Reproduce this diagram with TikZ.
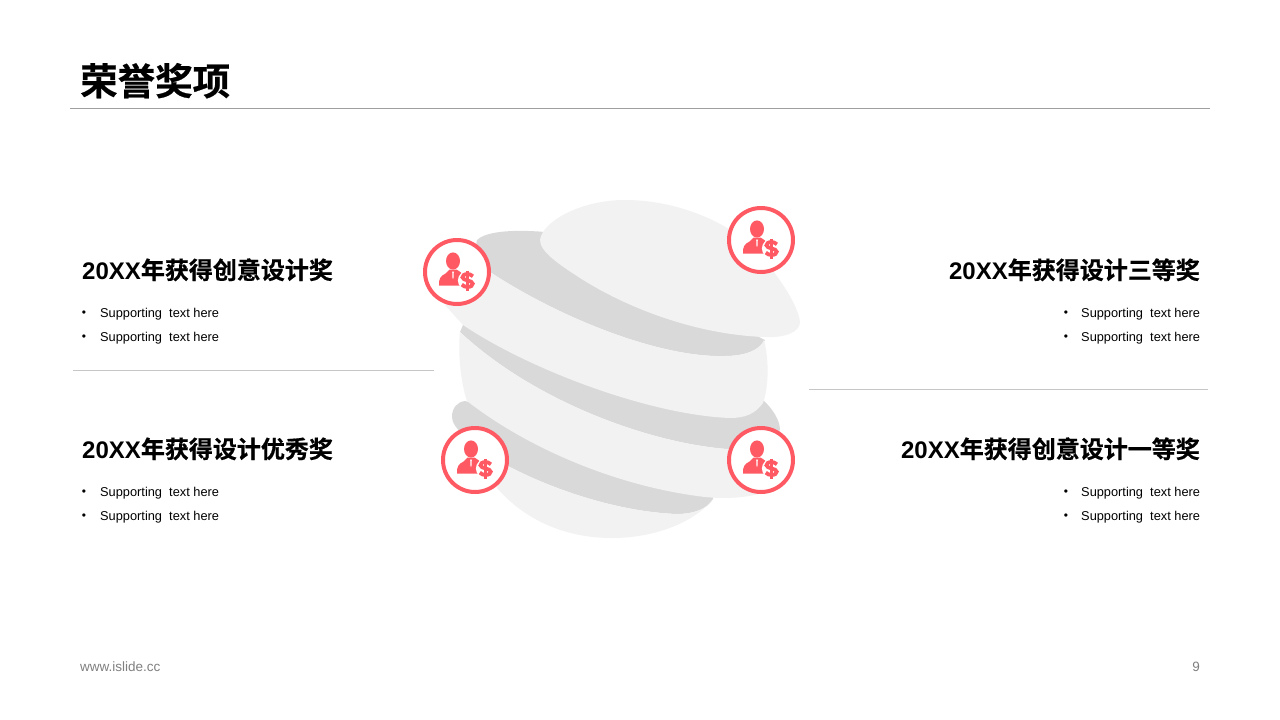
\documentclass[tikz,border=0pt]{standalone}
\usepackage{fontspec}
\setmainfont{Liberation Sans}
\newfontfamily\cjkb[BoldFont={Noto Sans CJK SC Bold},BoldFeatures={FakeBold=0.6}]{Noto Sans CJK SC}
\definecolor{accent}{HTML}{FF5A64}
\definecolor{lightband}{HTML}{F2F2F2}
\definecolor{darkband}{HTML}{D9D9D9}
\definecolor{footgrey}{HTML}{808080}
\newcommand{\headtext}[2]{{\fontsize{24}{28}\selectfont\bfseries #1{\cjkb\bfseries #2}}}
\tikzset{
  light/.style={fill=lightband,draw=none},
  dark/.style={fill=darkband,draw=none},
  ring/.style={circle,draw=accent,line width=4pt,fill=white,minimum size=64pt,inner sep=0pt},
  rule/.style={draw=#1,line width=1pt},
  headl/.style={anchor=base west,inner sep=0pt},
  headr/.style={anchor=base east,inner sep=0pt},
  body/.style={anchor=base west,inner sep=0pt,font=\fontsize{12.8}{16}\selectfont},
  bul/.style={anchor=center,inner sep=0pt,font=\fontsize{12}{16}\selectfont},
  foot/.style={inner sep=0pt,text=footgrey,font=\fontsize{13.5}{16}\selectfont},
  pics/award/.style={code={
    \fill[accent] (-4,-11) ellipse (7 and 8.6);
    \fill[accent] (-18,13.5) .. controls (-18.5,7) and (-16.5,4) .. (-11.5,1.5)
      -- (-7.5,-2.5) -- (-0.5,-2.5) -- (4,0.5) -- (9,13.5) -- cycle;
    \fill[white] (-5,-0.5) -- (-3,-0.5) -- (-3.5,1.5) -- (-3.3,5) -- (-4,7) -- (-4.7,5) -- (-4.5,1.5) -- cycle;
    \fill[white] (10.5,8.5) circle (9.6);
    \begin{scope}[shift={(10.5,8.5)},draw=accent,line cap=butt]
      \draw[line width=3.8pt] (5.4,-4.2) .. controls (3.7,-6) and (1.7,-6.4) .. (0,-6.4)
        .. controls (-3.4,-6.4) and (-5,-5) .. (-5,-3.2)
        .. controls (-5,0.2) and (5.2,-0.4) .. (5.2,3.2)
        .. controls (5.2,5) and (3.5,6.4) .. (0,6.4)
        .. controls (-2,6.4) and (-4,5.9) .. (-5.7,4.1);
      \draw[line width=2.6pt] (0,-10) -- (0,10);
    \end{scope}
  }}
}
\begin{document}
\begin{tikzpicture}[x=1pt,y=-1pt]
\useasboundingbox (0,0) rectangle (1280,720);
\fill[white] (0,0) rectangle (1280,720);

% title
\node[headl,font=\fontsize{37.5}{40}\selectfont] (title) at (80,95) {{\cjkb\bfseries 荣誉奖项}};
\coordinate (ruleA) at (70,108.5); \coordinate (ruleB) at (1210,108.5);
\draw[rule=gray!75] (ruleA) -- (ruleB);

% dark layers
\fill[dark] (497,460) .. controls (470,442) and (452,428) .. (452,417)
  .. controls (452,408) and (457,402) .. (465,401)
  -- (600,440) -- (713,497) -- (713,499)
  .. controls (708,508) and (695,514) .. (677,514)
  .. controls (620,512) and (550,490) .. (497,460) -- cycle;
\fill[dark] (460,332) -- (463,325) -- (763,400)
  .. controls (772,408) and (780,420) .. (780,430)
  .. controls (770,442) and (750,449) .. (727,449)
  .. controls (650,443) and (535,402) .. (460,332) -- cycle;
\fill[dark] (490,272) .. controls (480,260) and (474,248) .. (477,240)
  .. controls (485,232) and (510,229) .. (545,232)
  -- (765,340)
  .. controls (760,350) and (745,356) .. (725,356)
  .. controls (660,358) and (560,318) .. (490,272) -- cycle;

% light layers
\fill[light] (497,488) .. controls (525,520) and (565,538) .. (612,538)
  .. controls (655,538) and (695,522) .. (713,499)
  .. controls (708,508) and (695,514) .. (677,514)
  .. controls (620,512) and (550,490) .. (497,460) -- cycle;
\fill[light] (460,332) .. controls (535,402) and (650,443) .. (727,449)
  .. controls (750,449) and (770,442) .. (780,430)
  -- (783,460) -- (762,493)
  .. controls (745,498) and (725,499) .. (705,497)
  .. controls (620,487) and (530,450) .. (467,401)
  .. controls (460,380) and (458,350) .. (460,332) -- cycle;
\fill[light] (445,305) -- (490,272)
  .. controls (560,318) and (660,358) .. (725,356)
  .. controls (745,356) and (760,350) .. (764,340)
  .. controls (769,360) and (769,385) .. (763,403)
  .. controls (755,414) and (745,418) .. (730,418)
  .. controls (650,415) and (530,370) .. (463,325)
  -- cycle;
\fill[light] (540,240) .. controls (542,222) and (580,200) .. (625,200)
  .. controls (680,200) and (735,225) .. (760,255)
  .. controls (780,278) and (798,305) .. (800,322)
  .. controls (800,332) and (785,338) .. (765,337)
  .. controls (700,335) and (630,310) .. (580,278)
  .. controls (560,265) and (540,252) .. (540,240) -- cycle;

% rules
\coordinate (ruleC) at (73,370.5); \coordinate (ruleD) at (434,370.5);
\coordinate (ruleE) at (809,389); \coordinate (ruleF) at (1208,389);
\draw[rule=gray!45] (ruleC) -- (ruleD);
\draw[rule=gray!45] (ruleE) -- (ruleF);

% rings and icons
\node[ring] (ringTL) at (457,272) {};
\node[ring] (ringTR) at (761,240) {};
\node[ring] (ringBL) at (475,460) {};
\node[ring] (ringBR) at (761,460) {};
\pic at (ringTL.center) {award};
\pic at (ringTR.center) {award};
\pic at (ringBL.center) {award};
\pic at (ringBR.center) {award};

% left text
\node[headl] (h1) at (82,279) {\headtext{20XX}{年获得创意设计奖}};
\node[bul] (b1a) at (84,314) {•}; \node[body] (t1a) at (100,317.5) {Supporting\ \ text here};
\node[bul] (b1b) at (84,338) {•}; \node[body] (t1b) at (100,341.5) {Supporting\ \ text here};
\node[headl] (h2) at (82,458) {\headtext{20XX}{年获得设计优秀奖}};
\node[bul] (b2a) at (84,493) {•}; \node[body] (t2a) at (100,496.5) {Supporting\ \ text here};
\node[bul] (b2b) at (84,517) {•}; \node[body] (t2b) at (100,520.5) {Supporting\ \ text here};

% right text
\node[headr] (h3) at (1200,279) {\headtext{20XX}{年获得设计三等奖}};
\node[bul] (b3a) at (1066,314) {•}; \node[body] (t3a) at (1081,317.5) {Supporting\ \ text here};
\node[bul] (b3b) at (1066,338) {•}; \node[body] (t3b) at (1081,341.5) {Supporting\ \ text here};
\node[headr] (h4) at (1200,458) {\headtext{20XX}{年获得创意设计一等奖}};
\node[bul] (b4a) at (1066,493) {•}; \node[body] (t4a) at (1081,496.5) {Supporting\ \ text here};
\node[bul] (b4b) at (1066,517) {•}; \node[body] (t4b) at (1081,520.5) {Supporting\ \ text here};

% footer
\node[foot,anchor=base west] (site) at (80,671) {www.islide.cc};
\node[foot,anchor=base east] (page) at (1200,671) {9};
\end{tikzpicture}
\end{document}
